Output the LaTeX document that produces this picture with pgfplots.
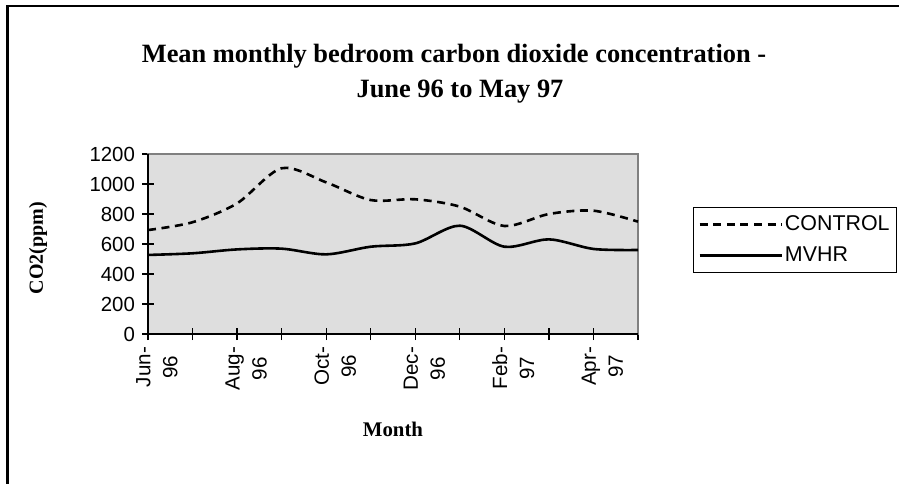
\documentclass[border=0pt]{standalone}
\usepackage{pgfplots}
\pgfplotsset{compat=1.18}
\usepackage{fontspec}
\setmainfont{Liberation Serif}
\newfontfamily\arial{Liberation Sans}
\definecolor{plotbg}{RGB}{222,222,222}
\definecolor{bordergray}{RGB}{128,128,128}
\begin{document}
\begin{tikzpicture}
\useasboundingbox (0,0) rectangle (449.5pt,241.5pt);
% outer frame (cropped at right and bottom)
\draw[line width=1.1pt] (3.75pt,-2pt) -- (3.75pt,238.4pt) -- (452pt,238.4pt);
\begin{axis}[
  at={(74pt,74.5pt)}, anchor=south west,
  scale only axis, width=245pt, height=90pt,
  xmin=0, xmax=11, ymin=0, ymax=1200,
  axis background/.style={fill=plotbg},
  axis line style={bordergray, line width=0.6pt},
  xtick={0,1,2,3,4,5,6,7,8,9,10,11},
  xticklabels={{Jun-\\96},,{Aug-\\96},,{Oct-\\96},,{Dec-\\96},,{Feb-\\97},,{Apr-\\97},},
  xticklabel style={rotate=90, anchor=east, align=center, font=\arial\fontsize{10.3}{13.5}\selectfont, yshift=-4.5pt},
  ytick={0,200,400,600,800,1000,1200},
  yticklabel style={font=\arial\fontsize{10.2}{12}\selectfont},
  /pgf/number format/assume math mode=true,
  /pgf/number format/1000 sep={},
  tick align=center, major tick length=6pt,
  tick style={black, line width=0.6pt},
  xtick pos=bottom, ytick pos=left,
  clip=false,
  legend style={at={(1.112,0.7056)}, anchor=north west, draw=black, line width=0.5pt,
    font=\arial\fontsize{10.7}{12}\selectfont, inner xsep=2.5pt, inner ysep=2.8pt, row sep=3.8pt,
    nodes={inner sep=1pt, text height=7.6pt, text depth=2pt}},
  legend cell align=left,
  legend image code/.code={\draw[#1] (0pt,0pt) -- (41pt,0pt);},
]
\addplot[black, line width=1.3pt, dash pattern=on 4pt off 2.8pt, smooth] coordinates {
  (0,693) (1,745) (2,871) (3,1105) (4,1011) (5,893) (6,898) (7,849) (8,720) (9,800) (10,822) (11,749)};
\addlegendentry{CONTROL}
\addplot[black, line width=1.3pt, smooth] coordinates {
  (0,527) (1,538) (2,564) (3,569) (4,531) (5,582) (6,604) (7,722) (8,582) (9,631) (10,567) (11,560)};
\addlegendentry{MVHR}
\draw[black, line width=0.8pt] (rel axis cs:0,1) -- (rel axis cs:0,0) -- (rel axis cs:1,0);
\end{axis}
\node[anchor=base, font=\bfseries\fontsize{13.2}{15}\selectfont] at (227pt,210pt) {Mean monthly bedroom carbon dioxide concentration -};
\node[anchor=base, font=\bfseries\fontsize{13.2}{15}\selectfont] at (230pt,193pt) {June 96 to May 97};
\node[anchor=base, font=\bfseries\fontsize{10.4}{12}\selectfont] at (196.5pt,23.5pt) {Month};
\node[rotate=90, font=\bfseries\fontsize{10}{12}\selectfont] at (19pt,117.5pt) {CO2(ppm)};
\end{tikzpicture}
\end{document}
